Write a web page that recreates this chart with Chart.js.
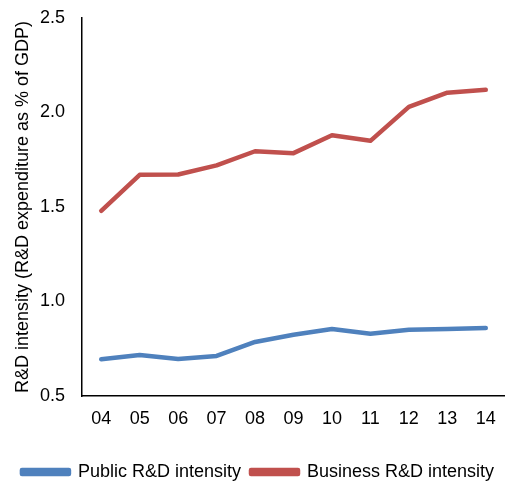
<!DOCTYPE html>
<html>
<head>
<meta charset="utf-8">
<script src="https://cdn.jsdelivr.net/npm/chart.js@4"></script>
<style>
  html, body { margin: 0; padding: 0; background: #fff; }
  #wrap { width: 505px; height: 486px; }
</style>
</head>
<body>
<div id="wrap"><canvas id="rdChart"></canvas></div>
<script>
// Data
const years = ['04', '05', '06', '07', '08', '09', '10', '11', '12', '13', '14'];
const publicRD = [0.695, 0.717, 0.696, 0.712, 0.786, 0.824, 0.855, 0.829, 0.85, 0.855, 0.86];
const businessRD = [1.48, 1.67, 1.672, 1.72, 1.795, 1.785, 1.88, 1.85, 2.03, 2.105, 2.12];
const yTicks = [0.5, 1.0, 1.5, 2.0, 2.5];

const font = { family: 'Liberation Sans, Arial, sans-serif', size: 18 };

document.addEventListener('DOMContentLoaded', () => {
  const ctx = document.getElementById('rdChart').getContext('2d');

  new Chart(ctx, {
    type: 'line',
    data: {
      labels: years,
      datasets: [
        {
          label: 'Public R&D intensity',
          data: publicRD,
          borderColor: '#4F81BD',
          backgroundColor: '#4F81BD',
          borderWidth: 4.5,
          pointRadius: 0,
          tension: 0,
          borderCapStyle: 'round',
          borderJoinStyle: 'round'
        },
        {
          label: 'Business R&D intensity',
          data: businessRD,
          borderColor: '#C0504D',
          backgroundColor: '#C0504D',
          borderWidth: 4.5,
          pointRadius: 0,
          tension: 0,
          borderCapStyle: 'round',
          borderJoinStyle: 'round'
        }
      ]
    },
    options: {
      responsive: true,
      maintainAspectRatio: false,
      animation: false,
      // plot runs right to the edge, as in the original
      layout: { padding: { top: 18, left: 10, right: -1, bottom: -5 } },
      plugins: {
        tooltip: { enabled: false },
        legend: {
          position: 'bottom',
          labels: {
            color: '#000',
            font: font,
            boxWidth: 47,
            boxHeight: 4,
            padding: 10
          }
        }
      },
      scales: {
        x: {
          offset: true,
          grid: { display: false, drawTicks: false },
          border: { display: true, color: '#000', width: 1.5 },
          ticks: { color: '#000', font: font, padding: 12, maxRotation: 0 },
          // leave room between the year labels and the legend
          afterFit: scale => {
            scale.height = 57;
            scale.paddingLeft = 0;
            scale.paddingRight = 0;
          }
        },
        y: {
          min: 0.5,
          max: 2.5,
          afterBuildTicks: axis => { axis.ticks = yTicks.map(v => ({ value: v })); },
          grid: { display: false, drawTicks: false },
          border: { display: true, color: '#000', width: 1.5 },
          ticks: {
            color: '#000',
            font: font,
            padding: 17,
            callback: value => Number(value).toFixed(1)
          },
          title: {
            display: true,
            text: 'R&D intensity (R&D expenditure as % of GDP)',
            color: '#000',
            font: font,
            padding: { top: 2, bottom: 6 }
          },
          afterFit: scale => {
            scale.width = 72;
            scale.paddingTop = 0;
            scale.paddingBottom = 0;
          }
        }
      }
    }
  });
});
</script>
</body>
</html>
